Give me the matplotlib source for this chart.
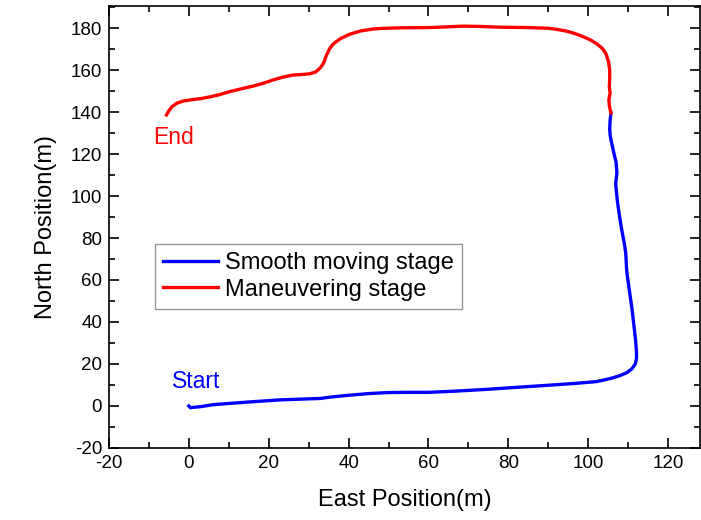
import matplotlib
matplotlib.use('Agg')
import matplotlib.pyplot as plt
from matplotlib.ticker import MultipleLocator

plt.rcParams['font.family'] = ['Liberation Sans', 'DejaVu Sans']
plt.rcParams['axes.unicode_minus'] = False

# ── Trajectory data ──────────────────────────────────────────────────────────
smooth_x = [0, 0.4, 3, 6, 10, 15, 22.75, 30, 33, 35.25, 40, 45, 50, 55, 60, 66, 74.4,
            83, 91, 97, 102, 104, 106, 108, 109.8, 111, 111.8, 112.1, 112.1, 111.9,
            111.6, 111.3, 111.0, 110.7, 110.4, 110.1, 109.8, 109.6, 109.5, 109.4,
            109.1, 108.7, 108.3, 107.9, 107.5, 107.3, 107.1, 106.9, 107.2, 107.0,
            106.5, 106.1, 105.8, 105.5, 105.4, 105.5, 105.7]
smooth_y = [0, -0.8, -0.3, 0.6, 1.2, 1.9, 2.9, 3.4, 3.6, 4.2, 5.1, 5.9, 6.4, 6.5, 6.5,
            7, 7.9, 9, 10, 10.8, 11.6, 12.4, 13.3, 14.5, 16, 17.8, 20, 22.5, 26, 31,
            36, 41, 46, 50, 54, 58, 62, 66, 70, 73, 77, 81, 85, 90, 95, 98, 101.5,
            106, 111, 116, 120, 123.5, 126, 129, 132, 136, 139.5]

maneuver_x = [105.7, 105.3, 105.2, 105.5, 105.3, 105.4, 105.4, 105.1, 104.5, 103.6,
              102.3, 100.6, 98.6, 96.5, 94.4, 92, 90, 85, 78, 72, 68.6, 64, 60,
              52.75, 48, 46, 43, 40.25, 38, 36.2, 35.2, 34.4, 33.8, 33, 31.8, 30.25,
              28, 26, 23.5, 21, 18.5, 16, 13, 10.25, 7.5, 5.25, 3, 0.5, -1.5, -3,
              -4.2, -5, -5.6]
maneuver_y = [139.5, 143, 146, 149, 152, 156, 160, 164, 167.6, 170.2, 172.3, 174.3,
              176, 177.5, 178.6, 179.4, 179.9, 180.2, 180.4, 180.8, 180.9, 180.5,
              180.2, 180.1, 179.8, 179.5, 178.6, 177, 175, 172.5, 170, 166.8, 163.5,
              161.2, 159.1, 158.2, 157.8, 157.6, 156.6, 155.2, 153.6, 152.3, 151,
              149.7, 148.2, 147.2, 146.4, 145.8, 145.2, 144.2, 142.6, 140.6, 138.6]

fig = plt.figure(figsize=(7.01, 5.20), dpi=100)
ax = fig.add_axes([0.1555, 0.1385, 0.843, 0.85])

ax.plot(smooth_x, smooth_y, color='#0000FF', linewidth=2.4, label='Smooth moving stage',
        solid_joinstyle='round')
ax.plot(maneuver_x, maneuver_y, color='#FF0000', linewidth=2.4, label='Maneuvering stage',
        solid_joinstyle='round')

ax.text(-4.3, 11.5, 'Start', color='#0000FF', fontsize=16.5, va='center', ha='left')
ax.text(-9, 128, 'End', color='#FF0000', fontsize=16.5, va='center', ha='left')

ax.set_xlim(-20, 128)
ax.set_ylim(-20, 190.5)
ax.xaxis.set_major_locator(MultipleLocator(20))
ax.xaxis.set_minor_locator(MultipleLocator(10))
ax.yaxis.set_major_locator(MultipleLocator(20))
ax.yaxis.set_minor_locator(MultipleLocator(10))
ax.tick_params(which='both', direction='in', top=True, right=True, width=1.2)
ax.tick_params(which='major', length=7, labelsize=13.5, pad=5)
ax.tick_params(which='minor', length=4)
for s in ax.spines.values():
    s.set_linewidth(1.2)

ax.set_xlabel('East Position(m)', fontsize=17, labelpad=12)
ax.set_ylabel('North Position(m)', fontsize=17, labelpad=10)

leg = ax.legend(loc='upper left', bbox_to_anchor=(0.078, 0.462), fontsize=17,
                frameon=True, fancybox=False, edgecolor='#808080',
                handlelength=2.3, handletextpad=0.3, borderpad=0.35,
                labelspacing=0.2, borderaxespad=0)
leg.get_frame().set_linewidth(1.0)

fig.savefig('out.png', dpi=100)
